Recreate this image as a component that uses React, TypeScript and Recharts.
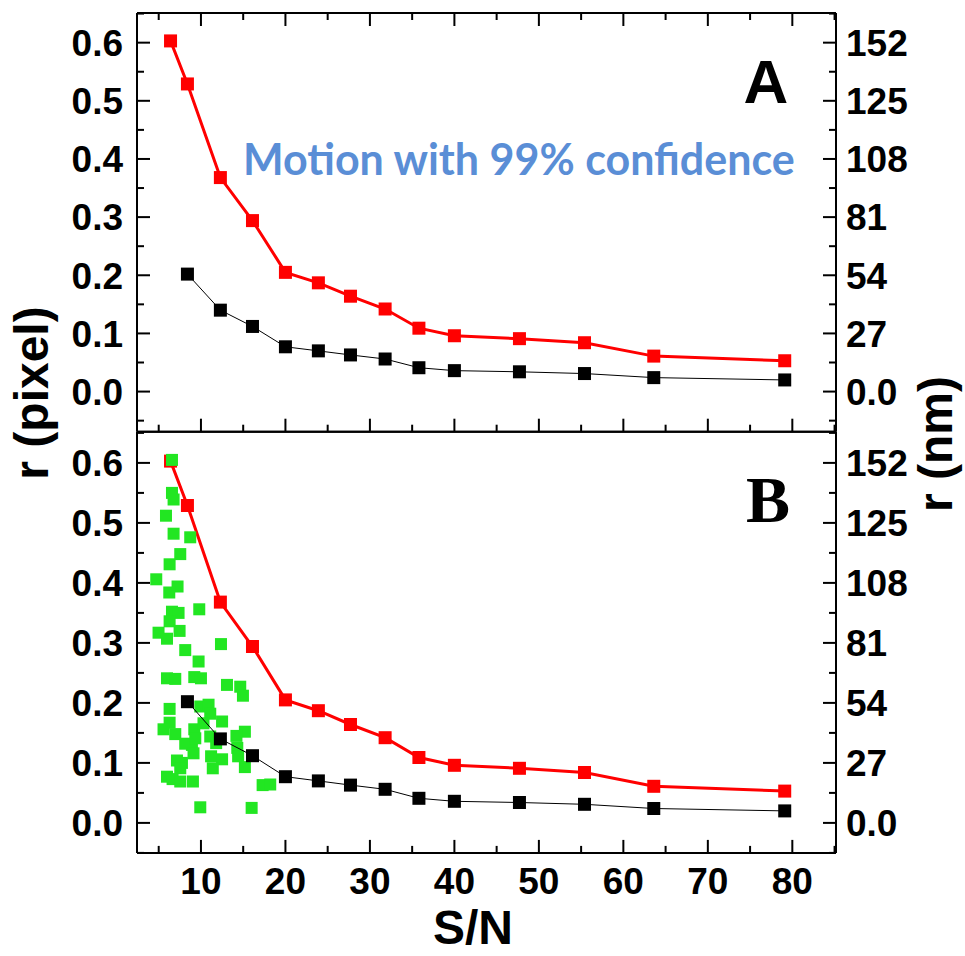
import React from "react";
import { ScatterChart, Scatter, XAxis, YAxis } from "recharts";

// S/N values and displacement (pixel)
const snRed = [6.4, 8.4, 12.3, 16.1, 20.0, 23.9, 27.7, 31.8, 35.8, 40.0, 47.7, 55.4, 63.6, 79.1];
const rRed = [0.603, 0.529, 0.368, 0.294, 0.205, 0.187, 0.164, 0.142, 0.109, 0.096, 0.091, 0.084, 0.061, 0.053];

const snBlack = [8.4, 12.3, 16.1, 20.0, 23.9, 27.7, 31.8, 35.8, 40.0, 47.7, 55.4, 63.6, 79.1];
const rBlack = [0.202, 0.14, 0.112, 0.077, 0.07, 0.063, 0.056, 0.041, 0.036, 0.034, 0.031, 0.024, 0.02];

const snGreen = [
  6.57, 6.57, 6.76, 5.86, 6.76, 8.73, 7.55, 6.29, 4.71, 7.23, 6.25, 9.8, 6.57, 7.35, 6.29, 4.98,
  7.47, 5.98, 12.37, 8.14, 9.72, 5.98, 6.96, 9.21, 10.0, 13.08, 14.65, 14.97, 6.29, 9.92, 10.9,
  11.1, 12.5, 6.29, 5.57, 6.96, 9.21, 10.3, 15.2, 14.2, 8.14, 8.93, 9.33, 11.1, 11.8, 9.12, 11.2,
  12.5, 14.3, 14.4, 7.16, 7.75, 7.55, 11.4, 15.2, 5.98, 6.64, 7.55, 9.05, 17.3, 18.2, 9.92, 16.0,
];
const rGreen = [
  0.605, 0.55, 0.539, 0.512, 0.482, 0.476, 0.448, 0.431, 0.406, 0.394, 0.384, 0.356, 0.352, 0.35,
  0.336, 0.317, 0.32, 0.307, 0.298, 0.288, 0.269, 0.241, 0.24, 0.243, 0.241, 0.23, 0.227, 0.212,
  0.19, 0.194, 0.197, 0.182, 0.169, 0.167, 0.156, 0.148, 0.156, 0.166, 0.152, 0.145, 0.132, 0.13,
  0.141, 0.144, 0.133, 0.116, 0.111, 0.106, 0.125, 0.111, 0.104, 0.1, 0.091, 0.091, 0.093, 0.077,
  0.073, 0.069, 0.069, 0.063, 0.064, 0.026, 0.025,
];

const xTicks = [5, 10, 15, 20, 25, 30, 35, 40, 45, 50, 55, 60, 65, 70, 75, 80, 85];
const xTickLabels = ["10", "20", "30", "40", "50", "60", "70", "80"];
const yTicks = [-0.05, 0, 0.05, 0.1, 0.15, 0.2, 0.25, 0.3, 0.35, 0.4, 0.45, 0.5, 0.55, 0.6, 0.65];
const pixelTickLabels = ["0.0", "0.1", "0.2", "0.3", "0.4", "0.5", "0.6"];
const nmTickLabels = ["0.0", "27", "54", "81", "108", "125", "152"];

const toPoints = (xs: number[], ys: number[]) => xs.map((x, i) => ({ x, y: ys[i] }));
const redPts = toPoints(snRed, rRed);
const blackPts = toPoints(snBlack, rBlack);
const greenPts = toPoints(snGreen, rGreen);

const FONT = "'Liberation Sans', Arial, sans-serif";
const TICK_FONT = 37;
const MAJOR = 13;
const MINOR = 7;
const xDomain = [2.43, 85.17];

const isMajor = (v: number, step: number) => Math.abs(v / step - Math.round(v / step)) < 1e-6;

const LeftTick = (props: any) => {
  const { x, y, payload } = props;
  const v = payload.value;
  const major = isMajor(v, 0.1);
  const idx = Math.round(v * 10);
  return (
    <g>
      <line x1={x} y1={y} x2={x + (major ? MAJOR : MINOR)} y2={y} stroke="#000" strokeWidth={2} />
      {major && pixelTickLabels[idx] && (
        <text x={x - 14} y={y} dy={TICK_FONT * 0.36} textAnchor="end" fontFamily={FONT}
          fontWeight="bold" fontSize={TICK_FONT} fill="#000">
          {pixelTickLabels[idx]}
        </text>
      )}
    </g>
  );
};

const RightTick = (props: any) => {
  const { x, y, payload } = props;
  const v = payload.value;
  const major = isMajor(v, 0.1);
  const idx = Math.round(v * 10);
  return (
    <g>
      <line x1={x} y1={y} x2={x - (major ? MAJOR : MINOR)} y2={y} stroke="#000" strokeWidth={2} />
      {major && nmTickLabels[idx] && (
        <text x={x + 10} y={y} dy={TICK_FONT * 0.36} textAnchor="start" fontFamily={FONT}
          fontWeight="bold" fontSize={TICK_FONT} fill="#000">
          {nmTickLabels[idx]}
        </text>
      )}
    </g>
  );
};

const TopTick = (props: any) => {
  const { x, y, payload } = props;
  const major = isMajor(payload.value, 10);
  return <line x1={x} y1={y} x2={x} y2={y + (major ? MAJOR : MINOR)} stroke="#000" strokeWidth={2} />;
};

const BottomTick = (props: any) => {
  const { x, y, payload, labels } = props;
  const v = payload.value;
  const major = isMajor(v, 10);
  return (
    <g>
      <line x1={x} y1={y} x2={x} y2={y - (major ? MAJOR : MINOR)} stroke="#000" strokeWidth={2} />
      {labels && major && (
        <text x={x} y={y + 41} textAnchor="middle" fontFamily={FONT} fontWeight="bold"
          fontSize={TICK_FONT} fill="#000">
          {xTickLabels[v / 10 - 1]}
        </text>
      )}
    </g>
  );
};

const square = (size: number, fill: string) => (p: any) =>
  <rect x={p.cx - size / 2} y={p.cy - size / 2} width={size} height={size} fill={fill} />;

const axisLine = { stroke: "#000", strokeWidth: 2 };

function Panel(props: {
  height: number;
  topAxis: number;
  bottomAxis: number;
  yDomain: number[];
  topTicks: boolean;
  xLabels: boolean;
  green: boolean;
}) {
  return (
    <ScatterChart width={965} height={props.height} margin={{ top: 0, right: 29, bottom: 0, left: 37 }}>
      <XAxis xAxisId="top" orientation="top" type="number" dataKey="x" domain={xDomain}
        allowDataOverflow ticks={xTicks} interval={0} height={props.topAxis} tickSize={0}
        tickMargin={0} axisLine={axisLine} tickLine={false}
        tick={props.topTicks ? (p: any) => <TopTick {...p} /> : false} />
      <XAxis type="number" dataKey="x" domain={xDomain} allowDataOverflow ticks={xTicks}
        interval={0} height={props.bottomAxis} tickSize={0} tickMargin={0} axisLine={axisLine}
        tickLine={false} tick={(p: any) => <BottomTick {...p} labels={props.xLabels} />} />
      <YAxis type="number" dataKey="y" domain={props.yDomain} allowDataOverflow ticks={yTicks}
        interval={0} width={100} tickSize={0} tickMargin={0} axisLine={axisLine}
        tickLine={false} tick={(p: any) => <LeftTick {...p} />} />
      <YAxis yAxisId="right" orientation="right" type="number" domain={props.yDomain}
        allowDataOverflow ticks={yTicks} interval={0} width={100} tickSize={0} tickMargin={0}
        axisLine={axisLine} tickLine={false} tick={(p: any) => <RightTick {...p} />} />
      <Scatter data={redPts} line={{ stroke: "#ff0000", strokeWidth: 3 }} lineType="joint"
        shape={square(13, "#ff0000")} isAnimationActive={false} />
      {props.green && (
        <Scatter data={greenPts} shape={square(12, "#22e622")} isAnimationActive={false} />
      )}
      <Scatter data={blackPts} line={{ stroke: "#000", strokeWidth: 1 }} lineType="joint"
        shape={square(13, "#000")} isAnimationActive={false} />
    </ScatterChart>
  );
}

export default function App() {
  return (
    <div style={{ position: "absolute", left: 0, top: 0, width: 965, height: 956, background: "#fff" }}>
      <div style={{ position: "absolute", left: 0, top: 0 }}>
        <Panel height={452} topAxis={13} bottomAxis={20.3} yDomain={[-0.069, 0.651]}
          topTicks xLabels={false} green={false} />
      </div>
      <div style={{ position: "absolute", left: 0, top: 420 }}>
        <Panel height={536} topAxis={11.7} bottomAxis={103.1} yDomain={[-0.05, 0.652]}
          topTicks={false} xLabels green />
      </div>
      <svg width={965} height={956} style={{ position: "absolute", left: 0, top: 0, pointerEvents: "none" }}>
        <text transform="translate(48,393) rotate(-90)" textAnchor="middle" fontFamily={FONT}
          fontWeight="bold" fontSize={48}>r (pixel)</text>
        <text transform="translate(952,444) rotate(-90)" textAnchor="middle" fontFamily={FONT}
          fontWeight="bold" fontSize={48}>r (nm)</text>
        <text x={473} y={944} textAnchor="middle" fontFamily={FONT} fontWeight="bold" fontSize={48}>S/N</text>
        <text x={766} y={103} textAnchor="middle" fontFamily={FONT} fontWeight="bold" fontSize={62}>A</text>
        <text x={768} y={522} textAnchor="middle" fontFamily="'Liberation Serif', 'Times New Roman', serif"
          fontWeight="bold" fontSize={66}>B</text>
        <text x={243} y={175} fontFamily="Lato, 'Open Sans', sans-serif" fontWeight="bold" fontSize={43}
          fill="#5a8ed6">Motion with 99% confidence</text>
      </svg>
    </div>
  );
}
